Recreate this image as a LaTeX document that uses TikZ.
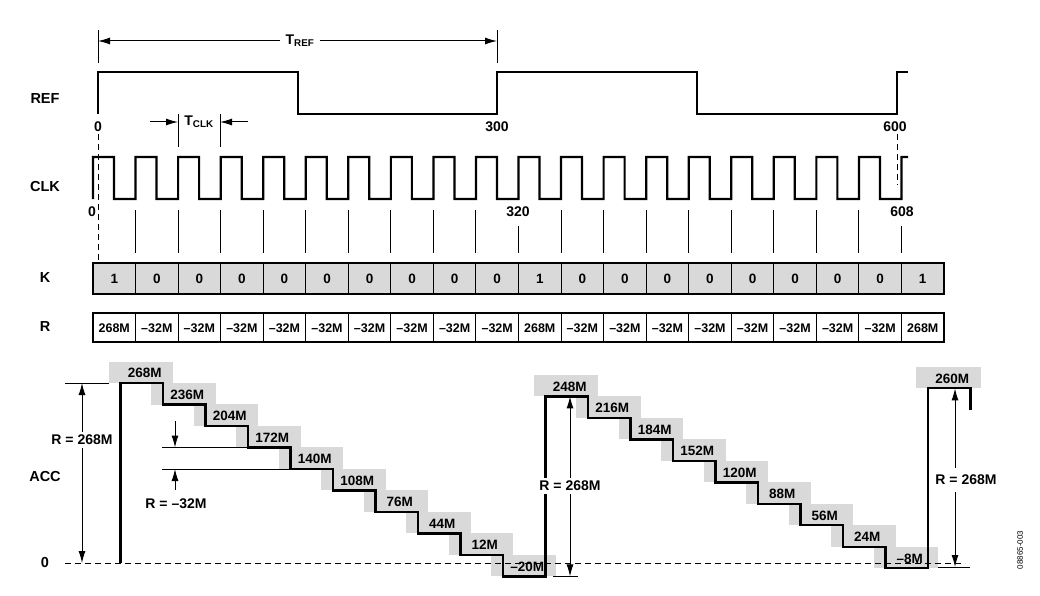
\documentclass[tikz,border=0pt]{standalone}
\usepackage{fontspec}
\setmainfont{Liberation Sans}
\usetikzlibrary{arrows.meta}
\definecolor{boxgray}{RGB}{217,217,217}
\begin{document}
\begin{tikzpicture}[x=1pt,y=-1pt,
  wave/.style={line width=2.2pt,line join=miter},
  thin/.style={line width=1pt},
  lbl/.style={font=\bfseries\fontsize{14}{14}\selectfont,inner sep=1pt},
  side/.style={font=\bfseries\fontsize{14.5}{14.5}\selectfont},
  cell/.style={font=\bfseries\fontsize{13.5}{13.5}\selectfont},
  arr/.style={-{Latex[length=12pt,width=7pt]},line width=1pt},
  dsh/.style={dash pattern=on 6pt off 4pt,line width=1pt}]
\useasboundingbox (0,0) rectangle (1040,596);
% side labels
\node[side] (lref) at (45,99) {REF};
\node[side] (lclk) at (45,187) {CLK};
\node[side] (lk) at (45,278) {K};
\node[side] (lr) at (45,327) {R};
\node[side] (lacc) at (45,477) {ACC};
\node[side] (lzero) at (45,563) {0};
% T_REF
\draw[thin] (98,30) -- (98,63);
\draw[thin] (497,30) -- (497,63);
\node[lbl,fill=white,inner sep=5pt] (tref) at (300,41) {T\textsubscript{REF}};
\coordinate (trefl) at (98,41);
\coordinate (trefr) at (497,41);
\draw[arr] (tref) -- (trefl);
\draw[arr] (tref) -- (trefr);
% REF wave
\draw[wave] (98,114) -- (98,72) -- (298,72) -- (298,114) -- (497,114) -- (497,72) -- (697,72) -- (697,114) -- (897,114) -- (897,72) -- (908,72);
\node[lbl] (r0) at (98,127) {0};
\node[lbl] (r300) at (497,127) {300};
\node[lbl] (r600) at (895,127) {600};
% T_CLK
\draw[thin] (178,114) -- (178,147);
\draw[thin] (220,114) -- (220,147);
\node[lbl] (tclk) at (199,122) {T\textsubscript{CLK}};
\coordinate (tca) at (150,122); \coordinate (tcb) at (178,122);
\coordinate (tcc) at (248,122); \coordinate (tcd) at (220,122);
\draw[arr] (tca) -- (tcb);
\draw[arr] (tcc) -- (tcd);
% CLK wave
\draw[wave] (93,199) foreach \k in {0,...,18} { -- ({93+42.55*\k},157) -- ({114+42.55*\k},157) -- ({114+42.55*\k},199) -- ({93+42.55*(\k+1)},199) } -- (901.5,157) -- (908,157);
\node[lbl] (c0) at (92,212) {0};
\node[lbl] (c320) at (518,212) {320};
\node[lbl] (c608) at (902,212) {608};
\draw[dsh] (98,134) -- (98,262);
\draw[dsh] (897,134) -- (897,185);
\foreach \k in {1,...,9,11,12,...,18} \draw[thin] ({93+42.55*\k},210) -- ({93+42.55*\k},253);
\foreach \k in {10,19} \draw[thin] ({93+42.55*\k},226) -- ({93+42.55*\k},253);
% K row
\foreach \v [count=\i from 0] in {1,0,0,0,0,0,0,0,0,0,1,0,0,0,0,0,0,0,0,1}{
  \fill[boxgray] ({93+42.55*\i},263) rectangle ({93+42.55*(\i+1)},294);
  \draw[thin] ({93+42.55*\i},263) -- ({93+42.55*\i},294);
  \node[cell] (k\i) at ({93+42.55*(\i+0.5)},279) {\v};
}
\draw[line width=2pt] (93,263) rectangle (944,294);
% R row
\foreach \v [count=\i from 0] in {268M,–32M,–32M,–32M,–32M,–32M,–32M,–32M,–32M,–32M,268M,–32M,–32M,–32M,–32M,–32M,–32M,–32M,–32M,268M}{
  \draw[thin] ({93+42.55*\i},313) -- ({93+42.55*\i},342);
  \node[cell,font=\bfseries\fontsize{12.5}{12.5}\selectfont] (rr\i) at ({93+42.55*(\i+0.5)},328) {\v};
}
\draw[line width=2pt] (93,313) rectangle (944,342);
% ACC gray boxes
\foreach \v [count=\j from 0] in {268,236,204,172,140,108,76,44,12,-20,248,216,184,152,120,88,56,24,-8,260}{
  \fill[boxgray] ({120.5+42.5*\j-12},{563-0.6716*\v-21.5}) rectangle ({120.5+42.5*(\j+1)+10},{563-0.6716*\v});
}
% baseline
\draw[dsh] (65,563) -- (965,563);
% staircase
\draw[wave] (120.5,563) foreach \v [count=\j from 0] in {268,236,204,172,140,108,76,44,12,-20,248,216,184,152,120,88,56,24,-8,260} { -- ({120.5+42.5*\j},{563-0.6716*\v}) -- ({120.5+42.5*(\j+1)},{563-0.6716*\v}) } -- (970.5,410);
\foreach \v/\t [count=\j from 0] in {268/268M,236/236M,204/204M,172/172M,140/140M,108/108M,76/76M,44/44M,12/12M,-20/–20M,248/248M,216/216M,184/184M,152/152M,120/120M,88/88M,56/56M,24/24M,-8/–8M,260/260M}{
  \node[cell] (a\j) at ({120.5+42.5*(\j+0.5)+3},{563-0.6716*\v-10}) {\t};
}
% R = 268M left
\draw[thin] (65,383) -- (109,383);
\node[lbl,fill=white,inner sep=3pt] (d1) at (82,440) {R = 268M};
\coordinate (d1t) at (82,383); \coordinate (d1b) at (82,563);
\draw[arr] (d1) -- (d1t);
\draw[arr] (d1) -- (d1b);
% R = -32M
\draw[thin] (162,447.5) -- (248,447.5);
\draw[thin] (162,469) -- (290,469);
\coordinate (m1) at (175,421); \coordinate (m2) at (175,447.5);
\coordinate (m3) at (175,490); \coordinate (m4) at (175,469);
\draw[arr] (m1) -- (m2);
\draw[arr] (m3) -- (m4);
\node[lbl] (d2) at (176,504) {R = –32M};
% R = 268M middle
\draw[thin] (553,576.4) -- (578,576.4);
\node[lbl,fill=white,inner sep=3pt] (d3) at (570,486) {R = 268M};
\coordinate (d3t) at (570,396.4); \coordinate (d3b) at (570,576.4);
\draw[arr] (d3) -- (d3t);
\draw[arr] (d3) -- (d3b);
% R = 268M right
\draw[thin] (938,567) -- (970,567);
\node[lbl,fill=white,inner sep=3pt] (d4) at (966,480) {R = 268M};
\coordinate (d4t) at (955,388.4); \coordinate (d4b) at (955,567);
\coordinate (d4u) at (955,468); \coordinate (d4l) at (955,492);
\draw[arr] (d4u) -- (d4t);
\draw[arr] (d4l) -- (d4b);
% code
\node[rotate=90,font=\fontsize{8}{8}\selectfont] (code) at (1020,550) {08865-003};
\end{tikzpicture}
\end{document}
